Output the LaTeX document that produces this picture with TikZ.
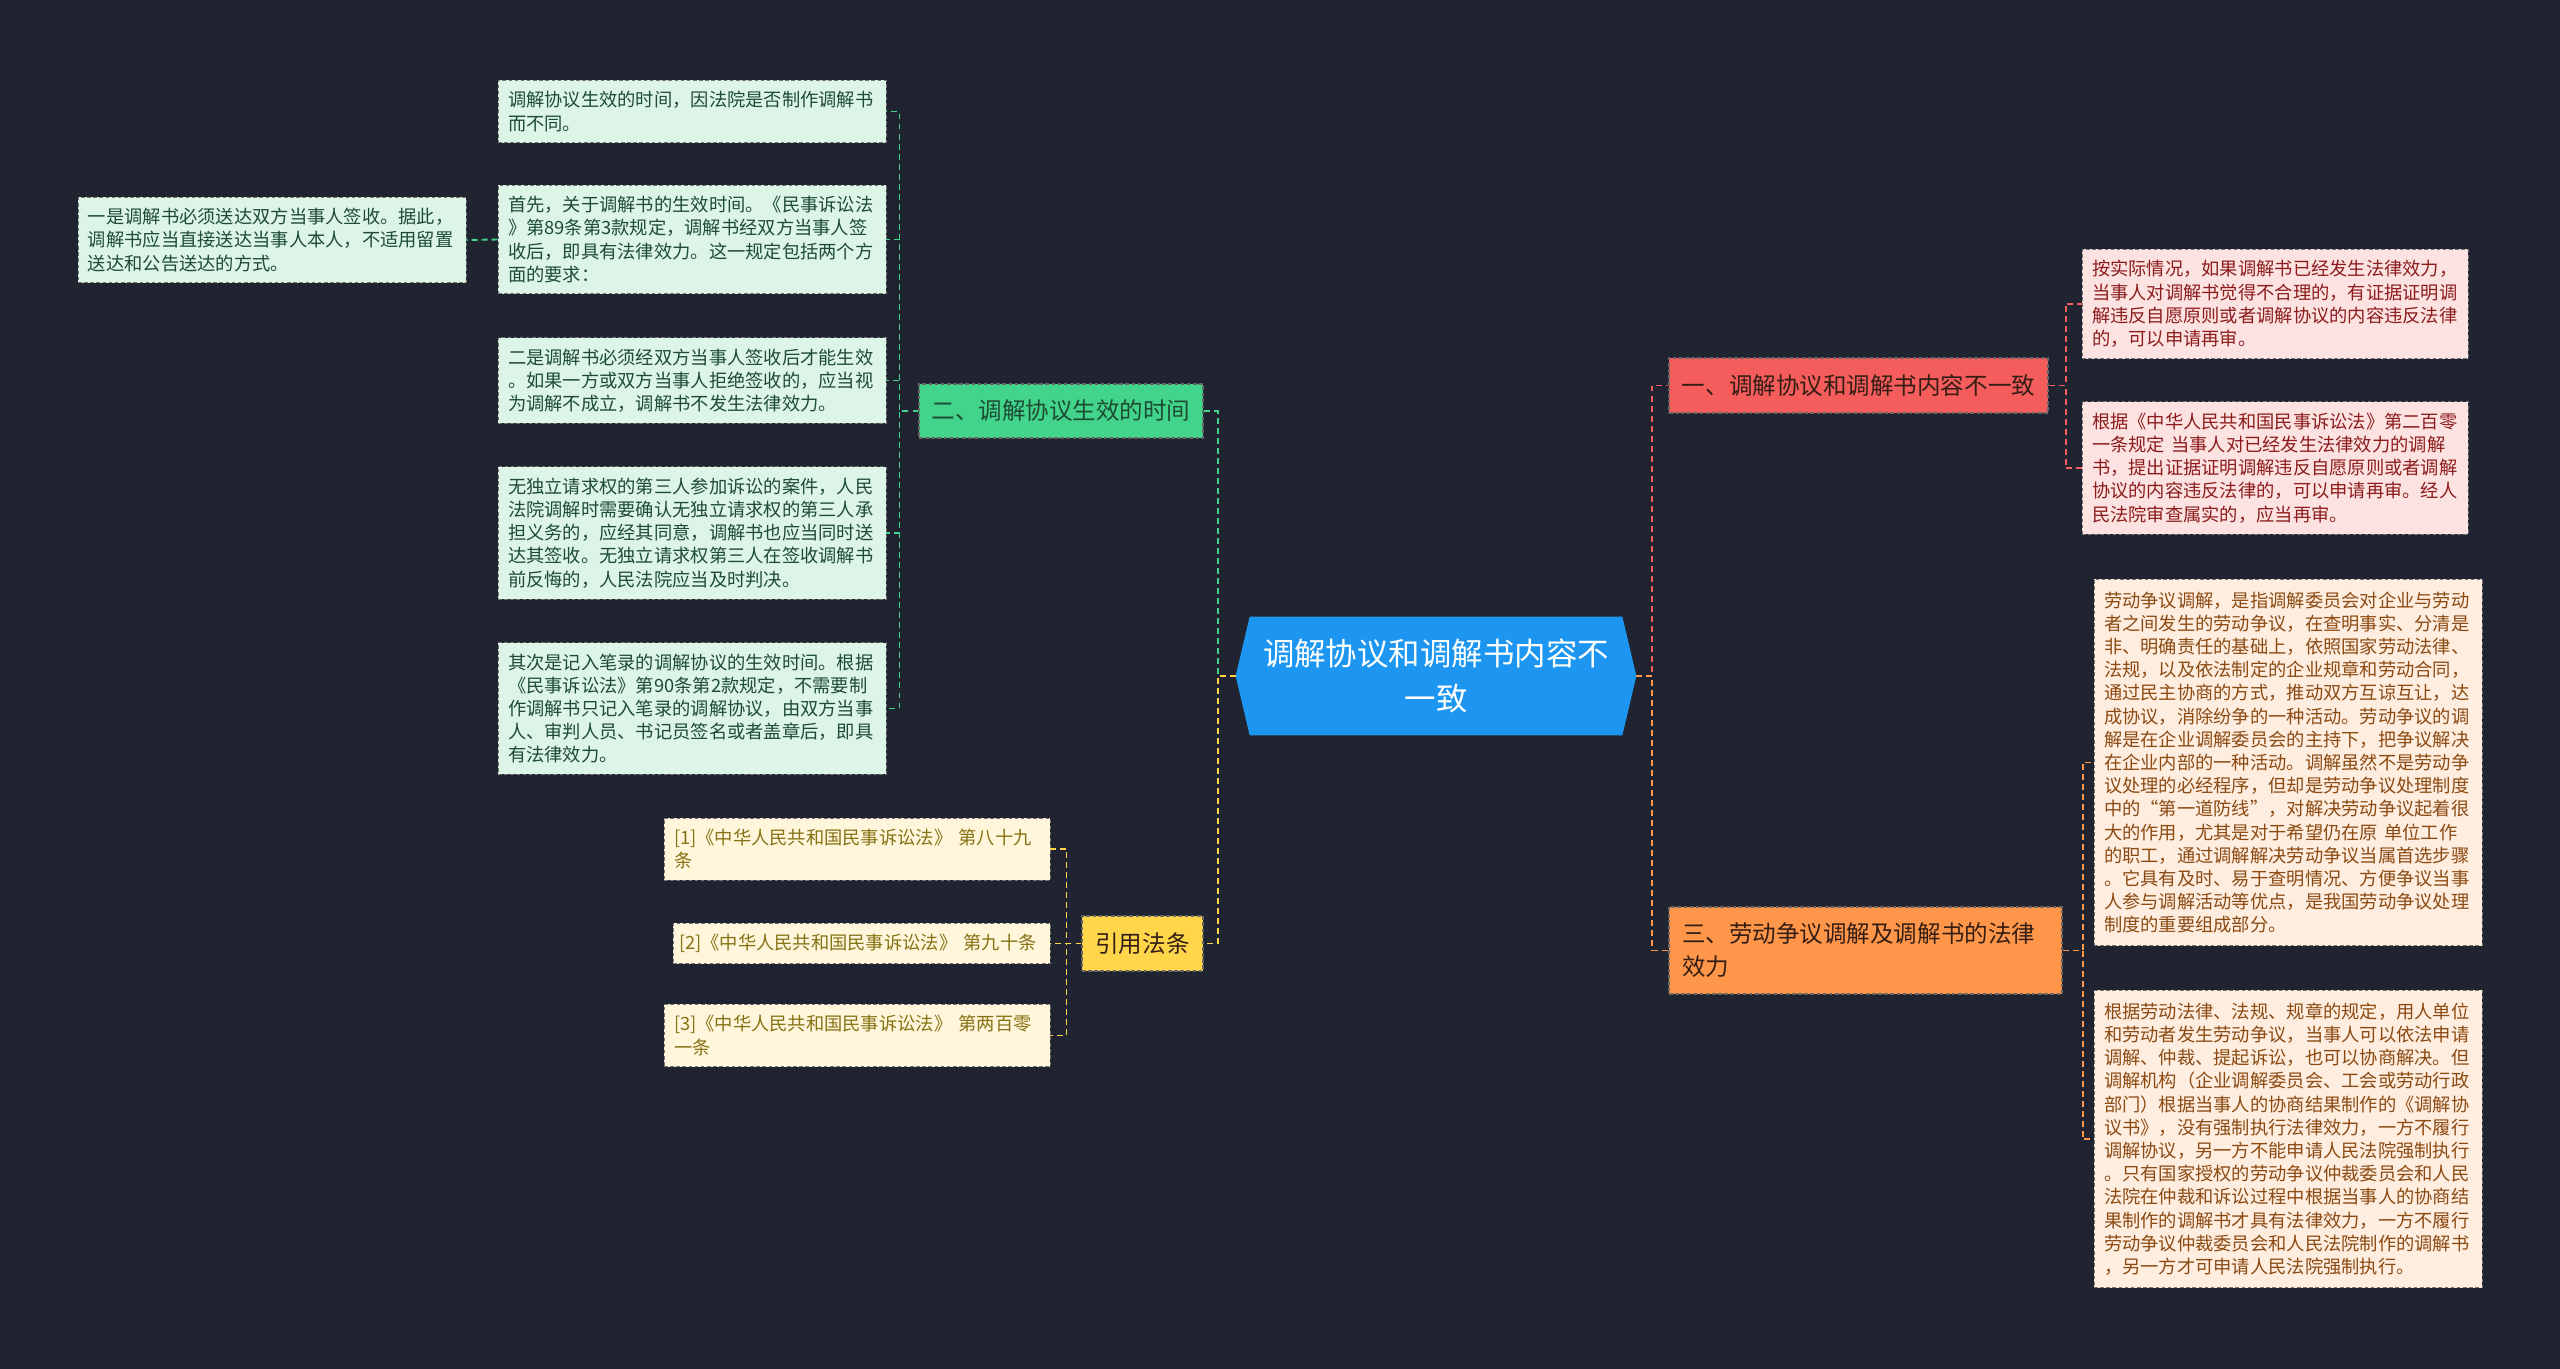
\documentclass[tikz,border=0pt]{standalone}
\usepackage{fontspec}
\setmainfont{Noto Sans CJK SC}
\usepackage{xcolor}
\usepackage{tikz}
\usetikzlibrary{positioning,calc}
\pgfdeclarelayer{bg}
\pgfsetlayers{bg,main}

\definecolor{bgnavy}{RGB}{32,36,48}
\definecolor{rootblue}{RGB}{28,150,240}
\definecolor{greenbr}{RGB}{66,212,138}
\definecolor{greenleaf}{RGB}{220,245,231}
\definecolor{greentext}{RGB}{30,75,52}
\definecolor{yellowbr}{RGB}{255,213,74}
\definecolor{yellowleaf}{RGB}{255,246,219}
\definecolor{yellowtext}{RGB}{133,114,20}
\definecolor{redbr}{RGB}{245,92,92}
\definecolor{redleaf}{RGB}{253,226,226}
\definecolor{redtext}{RGB}{140,28,28}
\definecolor{orangebr}{RGB}{255,150,74}
\definecolor{orangeleaf}{RGB}{255,237,224}
\definecolor{orangetext}{RGB}{139,74,18}
\definecolor{darktext}{RGB}{52,30,20}

\begin{document}
\begin{tikzpicture}[
    x=0.2mm, y=-0.2mm,
    rootnode/.style={minimum width=8cm, minimum height=2.36cm, inner sep=0pt, align=center, text=white, font=\fontsize{17.9pt}{25.5pt}\selectfont},
    topic/.style={rectangle, draw=black!60, dash pattern=on 2pt off 1.5pt, line width=0.6pt, inner xsep=0.24cm, inner ysep=0pt, align=left, text=darktext, font=\fontsize{13.4pt}{18.8pt}\selectfont},
    leaf/.style={rectangle, draw=black!55, dash pattern=on 2pt off 1.5pt, line width=0.5pt, inner xsep=0.2cm, inner ysep=0.22cm, text width=7.36cm, align=left, font=\fontsize{10.4pt}{13.2pt}\selectfont},
    greenleafbox/.style={leaf, fill=greenleaf, text=greentext},
    yellowleafbox/.style={leaf, fill=yellowleaf, text=yellowtext, text width=7.32cm},
    redleafbox/.style={leaf, fill=redleaf, text=redtext, text width=7.32cm},
    orangeleafbox/.style={leaf, fill=orangeleaf, text=orangetext, inner ysep=0.25cm},
    link/.style={dash pattern=on 3.4pt off 2.3pt, line width=1.1pt},
]

\begin{pgfonlayer}{bg}
\fill[bgnavy] (0,0) rectangle (2560,1369);
\end{pgfonlayer}
\useasboundingbox (0,0) rectangle (2560,1369);

% Nodes
\node[rootnode] (root) at (1436,676) {调解协议和调解书内容不\\一致};
\begin{pgfonlayer}{bg}
\fill[rootblue] ([xshift=0.28cm]root.north west) -- ([xshift=-0.28cm]root.north east) -- (root.east)
    -- ([xshift=-0.28cm]root.south east) -- ([xshift=0.28cm]root.south west) -- (root.west) -- cycle;
\end{pgfonlayer}

\node[topic, fill=greenbr, text=greentext, minimum width=5.68cm, minimum height=1.08cm] (g2) at (1061,411) {二、调解协议生效的时间};
\node[topic, fill=yellowbr, minimum width=2.42cm, minimum height=1.1cm] (y4) at (1142.5,943.5) {引用法条};
\node[topic, fill=redbr, minimum width=7.58cm, minimum height=1.1cm] (r1) at (1858.5,385.5) {一、调解协议和调解书内容不一致};
\node[topic, fill=orangebr, text width=7.34cm, inner xsep=0.26cm, minimum height=1.74cm] (o3) at (1865.5,950.5) {三、劳动争议调解及调解书的法律\\效力};

\node[greenleafbox] (gl1) at (692,111.5) {调解协议生效的时间，因法院是否制作调解书\\而不同。};
\node[greenleafbox] (gl2) at (692,239.5) {首先，关于调解书的生效时间。《民事诉讼法\\》第89条第3款规定，调解书经双方当事人签\\收后，即具有法律效力。这一规定包括两个方\\面的要求：};
\node[greenleafbox] (gl0) at (272,240) {一是调解书必须送达双方当事人签收。据此，\\调解书应当直接送达当事人本人，不适用留置\\送达和公告送达的方式。};
\node[greenleafbox] (gl3) at (692,380.5) {二是调解书必须经双方当事人签收后才能生效\\。如果一方或双方当事人拒绝签收的，应当视\\为调解不成立，调解书不发生法律效力。};
\node[greenleafbox] (gl4) at (692,533) {无独立请求权的第三人参加诉讼的案件，人民\\法院调解时需要确认无独立请求权的第三人承\\担义务的，应经其同意，调解书也应当同时送\\达其签收。无独立请求权第三人在签收调解书\\前反悔的，人民法院应当及时判决。};
\node[greenleafbox] (gl5) at (692,708.5) {其次是记入笔录的调解协议的生效时间。根据\\《民事诉讼法》第90条第2款规定，不需要制\\作调解书只记入笔录的调解协议，由双方当事\\人、审判人员、书记员签名或者盖章后，即具\\有法律效力。};

\node[yellowleafbox] (yl1) at (857,849) {[1]《中华人民共和国民事诉讼法》 第八十九\\条};
\node[yellowleafbox, text width=7.3cm, inner xsep=0.12cm] (yl2) at (861.5,943.5) {[2]《中华人民共和国民事诉讼法》~第九十条};
\node[yellowleafbox] (yl3) at (857,1035.5) {[3]《中华人民共和国民事诉讼法》 第两百零\\一条};

\node[redleafbox] (rl1) at (2275,304) {按实际情况，如果调解书已经发生法律效力，\\当事人对调解书觉得不合理的，有证据证明调\\解违反自愿原则或者调解协议的内容违反法律\\的，可以申请再审。};
\node[redleafbox] (rl2) at (2275,468) {根据《中华人民共和国民事诉讼法》第二百零\\一条规定 当事人对已经发生法律效力的调解\\书，提出证据证明调解违反自愿原则或者调解\\协议的内容违反法律的，可以申请再审。经人\\民法院审查属实的，应当再审。};

\node[orangeleafbox] (ol1) at (2288,762.5) {劳动争议调解，是指调解委员会对企业与劳动\\者之间发生的劳动争议，在查明事实、分清是\\非、明确责任的基础上，依照国家劳动法律、\\法规，以及依法制定的企业规章和劳动合同，\\通过民主协商的方式，推动双方互谅互让，达\\成协议，消除纷争的一种活动。劳动争议的调\\解是在企业调解委员会的主持下，把争议解决\\在企业内部的一种活动。调解虽然不是劳动争\\议处理的必经程序，但却是劳动争议处理制度\\中的“第一道防线”，对解决劳动争议起着很\\大的作用，尤其是对于希望仍在原 单位工作\\的职工，通过调解解决劳动争议当属首选步骤\\。它具有及时、易于查明情况、方便争议当事\\人参与调解活动等优点，是我国劳动争议处理\\制度的重要组成部分。};
\node[orangeleafbox] (ol2) at (2288,1139) {根据劳动法律、法规、规章的规定，用人单位\\和劳动者发生劳动争议，当事人可以依法申请\\调解、仲裁、提起诉讼，也可以协商解决。但\\调解机构（企业调解委员会、工会或劳动行政\\部门）根据当事人的协商结果制作的《调解协\\议书》，没有强制执行法律效力，一方不履行\\调解协议，另一方不能申请人民法院强制执行\\。只有国家授权的劳动争议仲裁委员会和人民\\法院在仲裁和诉讼过程中根据当事人的协商结\\果制作的调解书才具有法律效力，一方不履行\\劳动争议仲裁委员会和人民法院制作的调解书\\，另一方才可申请人民法院强制执行。};

% Arcs/Paths
\foreach \leafname in {gl1,gl2,gl3,gl4,gl5}
    \draw[link, draw=greenbr] (g2.west) -- ++(-19,0) |- (\leafname.east);
\draw[link, draw=greenbr] (gl2.west) -- (gl0.east);
\foreach \leafname in {yl1,yl2,yl3}
    \draw[link, draw=yellowbr] (y4.west) -- ++(-15,0) |- (\leafname.east);
\foreach \leafname in {rl1,rl2}
    \draw[link, draw=redbr] (r1.east) -- ++(17,0) |- (\leafname.west);
\foreach \leafname in {ol1,ol2}
    \draw[link, draw=orangebr] (o3.east) -- ++(20,0) |- (\leafname.west);

\draw[link, draw=greenbr] (root.west) -- ++(-18,0) |- (g2.east);
\draw[link, draw=yellowbr] (root.west) -- ++(-18,0) |- (y4.east);
\draw[link, draw=redbr] (root.east) -- ++(16,0) |- (r1.west);
\draw[link, draw=orangebr] (root.east) -- ++(16,0) |- (o3.west);

\end{tikzpicture}
\end{document}
